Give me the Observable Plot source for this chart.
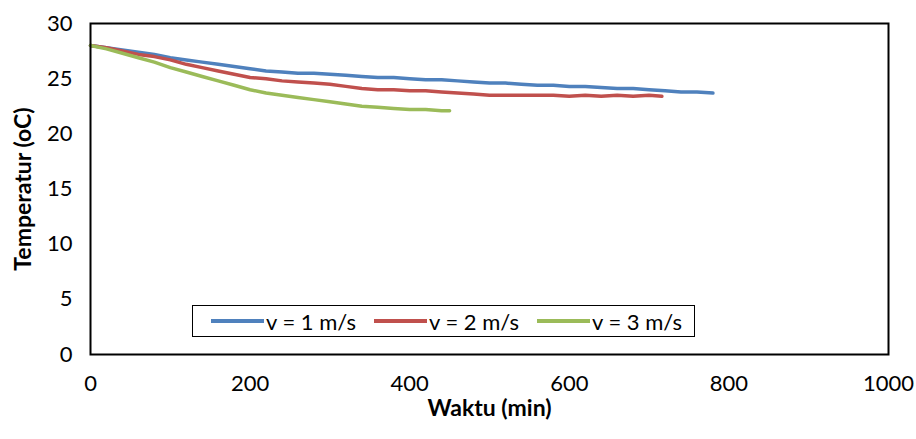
<!DOCTYPE html>
<html>
<head>
<meta charset="utf-8">
<script src="https://cdn.jsdelivr.net/npm/d3@7"></script>
<script src="https://cdn.jsdelivr.net/npm/@observablehq/plot@0.6"></script>
<style>
  html, body { margin: 0; padding: 0; background: #fff; }
  #wrap { position: relative; width: 916px; height: 439px; font-family: Lato, sans-serif; }
  #legend { position: absolute; left: 192px; top: 305px; width: 503px; height: 32px; border: 1.5px solid #000; background: #fff; display: flex; align-items: center; padding-left: 18px; box-sizing: border-box; font-size: 22px; color: #000; white-space: nowrap; overflow: hidden; }
  .item { display: flex; align-items: center; margin-right: 18px; flex-shrink: 0; white-space: nowrap; }
  .item:last-child { margin-right: 0; }
  .sw { width: 53px; height: 3.5px; margin-right: 2px; flex-shrink: 0; }
</style>
</head>
<body>
<div id="wrap"></div>
<script>
// Series data
const seriesNames = ["v = 1 m/s", "v = 2 m/s", "v = 3 m/s"];
const seriesColors = ["#4F81BD", "#C0504D", "#9BBB59"];

const timeV1 = [0,20,40,60,80,100,120,140,160,180,200,220,240,260,280,300,320,340,360,380,400,420,440,460,480,500,520,540,560,580,600,620,640,660,680,700,720,740,760,780];
const tempV1 = [28.0,27.8,27.6,27.4,27.2,26.9,26.7,26.5,26.3,26.1,25.9,25.7,25.6,25.5,25.5,25.4,25.3,25.2,25.1,25.1,25.0,24.9,24.9,24.8,24.7,24.6,24.6,24.5,24.4,24.4,24.3,24.3,24.2,24.1,24.1,24.0,23.9,23.8,23.8,23.7];

const timeV2 = [0,20,40,60,80,100,120,140,160,180,200,220,240,260,280,300,320,340,360,380,400,420,440,460,480,500,520,540,560,580,600,620,640,660,680,700,716];
const tempV2 = [28.0,27.8,27.5,27.2,27.0,26.7,26.3,26.0,25.7,25.4,25.1,25.0,24.8,24.7,24.6,24.5,24.3,24.1,24.0,24.0,23.9,23.9,23.8,23.7,23.6,23.5,23.5,23.5,23.5,23.5,23.4,23.5,23.4,23.5,23.4,23.5,23.4];

const timeV3 = [0,20,40,60,80,100,120,140,160,180,200,220,240,260,280,300,320,340,360,380,400,420,440,450];
const tempV3 = [28.0,27.7,27.3,26.9,26.5,26.0,25.6,25.2,24.8,24.4,24.0,23.7,23.5,23.3,23.1,22.9,22.7,22.5,22.4,22.3,22.2,22.2,22.1,22.1];

const xTicks = [0,200,400,600,800,1000];
const yTicks = [0,5,10,15,20,25,30];

const toRows = (ts, vs, name) => ts.map((t, i) => ({t, v: vs[i], s: name}));
const rows = [
  ...toRows(timeV1, tempV1, seriesNames[0]),
  ...toRows(timeV2, tempV2, seriesNames[1]),
  ...toRows(timeV3, tempV3, seriesNames[2])
];

const font = "Lato, sans-serif";

const chart = Plot.plot({
  width: 916,
  height: 439,
  marginLeft: 90,
  marginRight: 28,
  marginTop: 23,
  marginBottom: 85,
  style: { fontFamily: font, fontSize: "22px", color: "#000", background: "#fff" },
  x: { domain: [0, 1000], ticks: xTicks, tickFormat: d => String(d), tickSize: 0, tickPadding: 21, label: "Waktu (min)", labelAnchor: "center", labelOffset: 61, labelArrow: "none" },
  y: { domain: [0, 30], ticks: yTicks, tickFormat: d => String(d), tickSize: 0, tickPadding: 18, label: "Temperatur (oC)", labelAnchor: "center", labelOffset: 76, labelArrow: "none" },
  color: { domain: seriesNames, range: seriesColors },
  marks: [
    Plot.lineY(rows, { x: "t", y: "v", z: "s", stroke: "s", strokeWidth: 3.5, curve: "linear" }),
    Plot.frame({ stroke: "#000", strokeWidth: 2 })
  ]
});

const svg = d3.select(chart);
svg.selectAll("text").style("font-size", "22px").style("font-family", font).attr("fill", "#000");
svg.selectAll("g[aria-label='x-axis label'] text, g[aria-label='y-axis label'] text")
  .style("font-weight", "bold").style("font-size", "23px");

const wrap = document.getElementById("wrap");
wrap.appendChild(chart);

const legend = document.createElement("div");
legend.id = "legend";
seriesNames.forEach((n, i) => {
  const it = document.createElement("div");
  it.className = "item";
  const sw = document.createElement("div");
  sw.className = "sw";
  sw.style.background = seriesColors[i];
  const tx = document.createElement("span");
  tx.textContent = n;
  it.appendChild(sw);
  it.appendChild(tx);
  legend.appendChild(it);
});
wrap.appendChild(legend);
</script>
</body>
</html>
